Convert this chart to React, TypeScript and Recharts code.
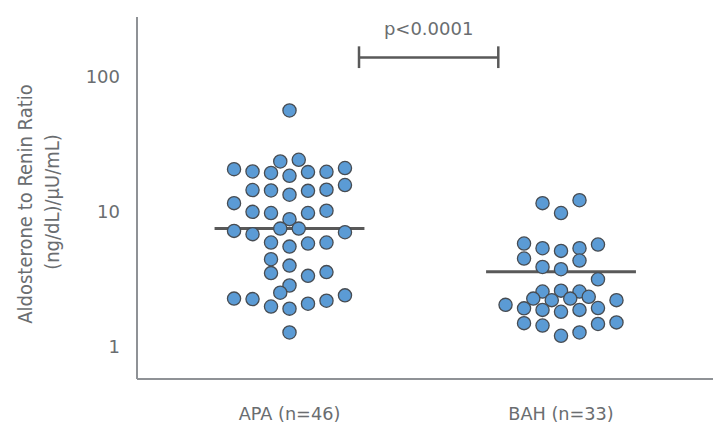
import React from 'react';
import { ScatterChart, Scatter, XAxis, YAxis, ReferenceLine } from 'recharts';

// Category labels
const categories = ['APA (n=46)', 'BAH (n=33)'];
const yTicks = [1, 10, 100];

// APA ratio values and beeswarm slot (column index)
const apaValues = [56.3, 23.6, 24.3, 20.7, 19.9, 19.4, 18.5, 19.7, 19.8, 21.1, 14.5, 14.4, 13.4, 14.3, 14.6, 15.8, 11.6, 10.0, 9.8, 9.8, 10.2, 8.83, 7.52, 7.52, 7.23, 6.84, 7.07, 5.93, 5.53, 5.83, 5.93, 4.46, 4.0, 3.52, 3.36, 3.58, 2.85, 2.52, 2.28, 2.26, 2.41, 1.99, 1.92, 2.09, 2.2, 1.28];
const apaSlots = [0, -0.5, 0.5, -3, -2, -1, 0, 1, 2, 3, -2, -1, 0, 1, 2, 3, -3, -2, -1, 1, 2, 0, -0.5, 0.5, -3, -2, 3, -1, 0, 1, 2, -1, 0, -1, 1, 2, 0, -0.5, -3, -2, 3, -1, 0, 1, 2, 0];

// BAH ratio values and beeswarm slot
const bahValues = [11.6, 12.2, 9.8, 5.83, 5.38, 5.14, 5.38, 5.73, 4.51, 4.36, 3.91, 3.76, 3.17, 2.57, 2.61, 2.57, 2.28, 2.22, 2.28, 2.35, 2.22, 2.05, 1.93, 1.88, 1.82, 1.88, 1.94, 1.5, 1.44, 1.48, 1.52, 1.21, 1.28];
const bahSlots = [-1, 1, 0, -2, -1, 0, 1, 2, -2, 1, -1, 0, 2, -1, 0, 1, -1.5, -0.5, 0.5, 1.5, 3, -3, -2, -1, 0, 1, 2, -2, -1, 2, 3, 0, 1];

// Medians
const medians = [7.52, 3.61];

// Significance
const pText = 'p<0.0001';
const bracketY = 139;
const bracketTickLow = 116;
const bracketTickHigh = 168;

const SLOT_STEP = 0.0681;
const MEDIAN_HALF = 0.276;
const BRACKET_X = [1.256, 1.769];

const apaData = apaValues.map((v, i) => ({ x: 1 + apaSlots[i] * SLOT_STEP, y: v }));
const bahData = bahValues.map((v, i) => ({ x: 2 + bahSlots[i] * SLOT_STEP, y: v }));

const TEXT = '#6a6d70';
const AXIS = '#8f9296';
const DARK = '#595959';
const FONT = 'DejaVu Sans';
const TITLE_FONT = "'DejaVu Sans Condensed', 'DejaVu Sans'";

const Dot = (props: any) => (
  <circle cx={props.cx} cy={props.cy} r={6.6} fill="#5b9bd5" stroke="#474c52" strokeWidth={1.3} />
);

const YTitle = () => (
  <g fill={TEXT} fontFamily={TITLE_FONT} fontSize={20} style={{ fontStretch: 'condensed' }}>
    <text x={25} y={204} textAnchor="middle" dominantBaseline="central" transform="rotate(-90, 25, 204)">
      Aldosterone to Renin Ratio
    </text>
    <text x={52} y={202} textAnchor="middle" dominantBaseline="central" transform="rotate(-90, 52, 202)">
      (ng/dL)/μU/mL)
    </text>
  </g>
);

export default function App() {
  return (
    <div style={{ position: 'absolute', left: 0, top: 0, background: '#fff' }}>
      <ScatterChart width={713} height={423} margin={{ top: 17, right: 0, bottom: 0, left: 0 }}>
        <XAxis
          type="number"
          dataKey="x"
          domain={[0.4383, 2.5598]}
          allowDataOverflow
          ticks={[1, 2]}
          tickFormatter={(v: number) => categories[Math.round(v) - 1]}
          tickLine={false}
          tickSize={0}
          tickMargin={28}
          height={44}
          axisLine={{ stroke: AXIS, strokeWidth: 2 }}
          tick={{ fill: TEXT, fontSize: 17.7, fontFamily: FONT }}
        />
        <YAxis
          type="number"
          dataKey="y"
          scale="log"
          domain={[0.579, 277]}
          allowDataOverflow
          ticks={yTicks}
          tickLine={false}
          tickSize={0}
          tickMargin={17}
          width={137}
          axisLine={{ stroke: AXIS, strokeWidth: 2 }}
          tick={{ fill: TEXT, fontSize: 18, fontFamily: FONT }}
          label={{ content: () => <YTitle /> }}
        />
        <Scatter data={apaData} shape={Dot} isAnimationActive={false} />
        <Scatter data={bahData} shape={Dot} isAnimationActive={false} />
        <ReferenceLine
          segment={[{ x: 1 - MEDIAN_HALF, y: medians[0] }, { x: 1 + MEDIAN_HALF, y: medians[0] }]}
          stroke={DARK}
          strokeWidth={3}
        />
        <ReferenceLine
          segment={[{ x: 2 - MEDIAN_HALF, y: medians[1] }, { x: 2 + MEDIAN_HALF, y: medians[1] }]}
          stroke={DARK}
          strokeWidth={3}
        />
        <ReferenceLine
          segment={[{ x: BRACKET_X[0], y: bracketY }, { x: BRACKET_X[1], y: bracketY }]}
          stroke={DARK}
          strokeWidth={2.5}
          label={{ value: pText, position: 'top', offset: 22, fill: TEXT, fontSize: 18, fontFamily: FONT }}
        />
        <ReferenceLine
          segment={[{ x: BRACKET_X[0], y: bracketTickLow }, { x: BRACKET_X[0], y: bracketTickHigh }]}
          stroke={DARK}
          strokeWidth={2.5}
        />
        <ReferenceLine
          segment={[{ x: BRACKET_X[1], y: bracketTickLow }, { x: BRACKET_X[1], y: bracketTickHigh }]}
          stroke={DARK}
          strokeWidth={2.5}
        />
      </ScatterChart>
    </div>
  );
}
